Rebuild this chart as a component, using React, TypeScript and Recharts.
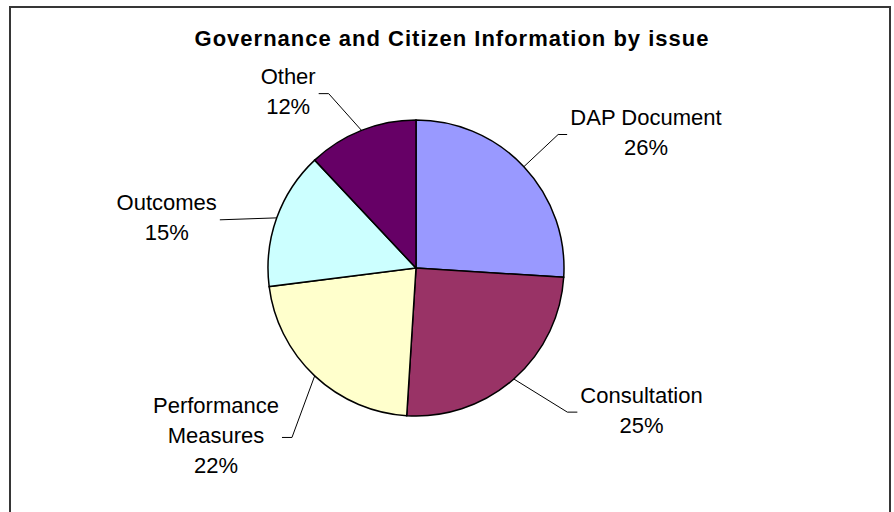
import React from 'react';
import { PieChart, Pie, Cell } from 'recharts';

// Values (Excel-style pie, clockwise from 12 o'clock)
const categories = ['DAP Document', 'Consultation', 'Performance Measures', 'Outcomes', 'Other'];
const shares = [26, 25, 22, 15, 12];
const sliceColors = ['#9999FF', '#993366', '#FFFFCC', '#CCFFFF', '#660066'];

// Leader line bend per label: angle nudge (deg), extra radius, horizontal tail
const labelBend: Array<[number, number, number]> = [
  [0, 47, 9],
  [-5, 61, 10],
  [-7, 62, 10],
  [-6, 54, 0],
  [-5, 47, 10],
];

const data = categories.map((name, i) => ({ name, value: shares[i] }));

const FONT = 'Arial, "Liberation Sans", sans-serif';
const RADIAN = Math.PI / 180;
const LINE_H = 30;

let ctx: CanvasRenderingContext2D | null = null;
const textWidth = (s: string) => {
  if (!ctx) ctx = document.createElement('canvas').getContext('2d');
  if (!ctx) return s.length * 11;
  ctx.font = `22px ${FONT}`;
  return ctx.measureText(s).width;
};

// wrap long names onto two lines like Excel does
const wrapName = (name: string) => (name.length > 14 ? name.split(' ') : [name]);

const renderLabel = (props: any) => {
  const { cx, cy, midAngle, outerRadius, name, percent, index } = props;
  const [nudge, extra, tail] = labelBend[index] || [0, 50, 10];
  const a0 = -midAngle * RADIAN;
  const sx = cx + outerRadius * Math.cos(a0);
  const sy = cy + outerRadius * Math.sin(a0);
  const a1 = -(midAngle - nudge) * RADIAN;
  const ex = cx + (outerRadius + extra) * Math.cos(a1);
  const ey = cy + (outerRadius + extra) * Math.sin(a1);
  const right = Math.cos(a0) >= 0;
  const tx = ex + (right ? tail : -tail);
  const lines = [...wrapName(name), `${Math.round(percent * 100)}%`];
  const w = Math.max(...lines.map(textWidth));
  const centerX = tx + (right ? 1 : -1) * (w / 2 + 3);
  const startY = ey - 2 - ((lines.length - 1) * LINE_H) / 2;
  return (
    <g key={`lbl-${index}`}>
      <path d={`M${sx},${sy}L${ex},${ey}L${tx},${ey}`} stroke="#000" strokeWidth={1} fill="none" />
      <text textAnchor="middle" fontFamily={FONT} fontSize={22} fill="#000">
        {lines.map((l, i) => (
          <tspan key={i} x={centerX} y={startY + i * LINE_H} dominantBaseline="central">
            {l}
          </tspan>
        ))}
      </text>
    </g>
  );
};

export default function App() {
  return (
    <div
      style={{
        position: 'absolute',
        left: 0,
        top: 0,
        width: 894,
        height: 512,
        overflow: 'hidden',
        background: '#fff',
      }}
    >
      <div
        style={{
          position: 'absolute',
          left: 9,
          top: 6,
          width: 878,
          height: 560,
          border: '2px solid #363636',
        }}
      />
      <div
        style={{
          position: 'absolute',
          left: 0,
          top: 28,
          width: 904,
          textAlign: 'center',
          fontFamily: FONT,
          fontWeight: 'bold',
          fontSize: 22,
          lineHeight: '22px',
          letterSpacing: 1,
          color: '#000',
        }}
      >
        Governance and Citizen Information by issue
      </div>
      <div style={{ position: 'absolute', left: 0, top: 0 }}>
        <PieChart width={894} height={512} margin={{ top: 0, right: 0, bottom: 0, left: 0 }}>
          <Pie
            data={data}
            dataKey="value"
            nameKey="name"
            cx={416}
            cy={268}
            outerRadius={148}
            startAngle={90}
            endAngle={-270}
            stroke="#000"
            strokeWidth={1.5}
            label={renderLabel}
            labelLine={false}
            isAnimationActive={false}
          >
            {data.map((d, i) => (
              <Cell key={d.name} fill={sliceColors[i]} />
            ))}
          </Pie>
        </PieChart>
      </div>
    </div>
  );
}
